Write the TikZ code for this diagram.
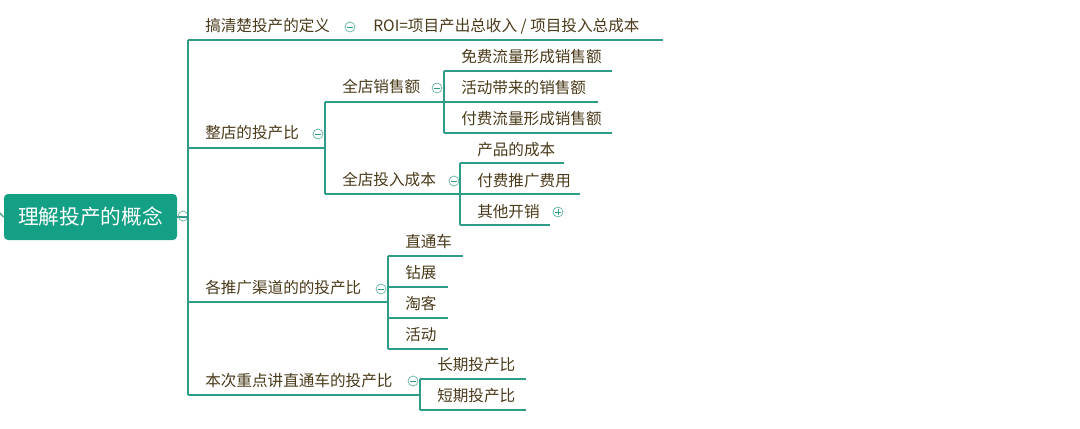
\documentclass[tikz,border=0pt]{standalone}
\usepackage{fontspec}
\setmainfont{Noto Sans CJK SC}
\begin{document}
\begin{tikzpicture}[x=0.75pt,y=-0.75pt,
  lbl/.style={anchor=west,inner sep=0pt,text=txt,font=\fontsize{11.7}{13}\selectfont},
  ln/.style={draw=lnc,line width=0.9pt},
  col/.style={circle,draw=lnc!80,line width=0.5pt,minimum size=7.5pt,inner sep=0pt}]
\definecolor{txt}{HTML}{4A3A1A}
\definecolor{lnc}{HTML}{2E9C86}
\definecolor{rootc}{HTML}{14A085}
\useasboundingbox (0,0) rectangle (1080,428);
\newcommand{\mycol}[3]{\node[col] (#1) at (#2,#3) {}; \draw[lnc,line width=0.5pt] ([xshift=-2pt]#1.center) -- ([xshift=2pt]#1.center);}
\newcommand{\myplus}[3]{\node[col] (#1) at (#2,#3) {}; \draw[lnc,line width=0.5pt] ([xshift=-2pt]#1.center) -- ([xshift=2pt]#1.center) ([yshift=-2pt]#1.center) -- ([yshift=2pt]#1.center);}
% root
\node[fill=rootc,rounded corners=3pt,minimum width=173*0.75pt,minimum height=46*0.75pt,text=white,font=\fontsize{15.5}{17}\selectfont] (root) at (90.5,217) {理解投产的概念};
\coordinate (in) at (0,213);
\draw[ln] (in) -- (root.west);
\draw[ln] (root.east) -- (188,217);
\mycol{rc}{183}{216}
% trunk
\draw[ln] (188,40) -- (188,395);
% child 1
\node[lbl] (c1) at (205,26) {搞清楚投产的定义};
\node[lbl] (roi) at (373,26) {ROI=项目产出总收入 / 项目投入总成本};
\draw[ln] (188,40) -- (663,40);
\mycol{k1}{350}{27}
% child 2
\node[lbl] (c2) at (205,133) {整店的投产比};
\draw[ln] (188,148) -- (325,148);
\draw[ln] (325,102) -- (325,194);
\mycol{k2}{318}{134}
\node[lbl] (s1) at (342,87) {全店销售额};
\draw[ln] (325,102) -- (444,102);
\mycol{k3}{437}{88}
\draw[ln] (444,71) -- (444,133);
\node[lbl] (a1) at (461,57) {免费流量形成销售额};
\draw[ln] (444,71) -- (612,71);
\node[lbl] (a2) at (461,88) {活动带来的销售额};
\draw[ln] (444,102) -- (598,102);
\node[lbl] (a3) at (461,119) {付费流量形成销售额};
\draw[ln] (444,133) -- (612,133);
\node[lbl] (s2) at (342,180) {全店投入成本};
\draw[ln] (325,194) -- (460,194);
\mycol{k4}{454}{181}
\draw[ln] (460,163) -- (460,225);
\node[lbl] (b1) at (477,150) {产品的成本};
\draw[ln] (460,163) -- (564,163);
\node[lbl] (b2) at (477,181) {付费推广费用};
\draw[ln] (460,194) -- (580,194);
\node[lbl] (b3) at (477,212) {其他开销};
\draw[ln] (460,225) -- (550,225);
\myplus{k5}{558}{212}
% child 3
\node[lbl] (c3) at (205,288) {各推广渠道的的投产比};
\draw[ln] (188,302) -- (388,302);
\mycol{k6}{381}{289}
\draw[ln] (388,256) -- (388,349);
\node[lbl] (d1) at (405,242) {直通车};
\draw[ln] (388,256) -- (463,256);
\node[lbl] (d2) at (405,273) {钻展};
\draw[ln] (388,287) -- (448,287);
\node[lbl] (d3) at (405,304) {淘客};
\draw[ln] (388,318) -- (448,318);
\node[lbl] (d4) at (405,335) {活动};
\draw[ln] (388,349) -- (448,349);
% child 4
\node[lbl] (c4) at (205,381) {本次重点讲直通车的投产比};
\draw[ln] (188,395) -- (420,395);
\mycol{k7}{413}{381}
\draw[ln] (420,379) -- (420,410);
\node[lbl] (e1) at (437,365) {长期投产比};
\draw[ln] (420,379) -- (526,379);
\node[lbl] (e2) at (437,396) {短期投产比};
\draw[ln] (420,410) -- (526,410);
\end{tikzpicture}
\end{document}
